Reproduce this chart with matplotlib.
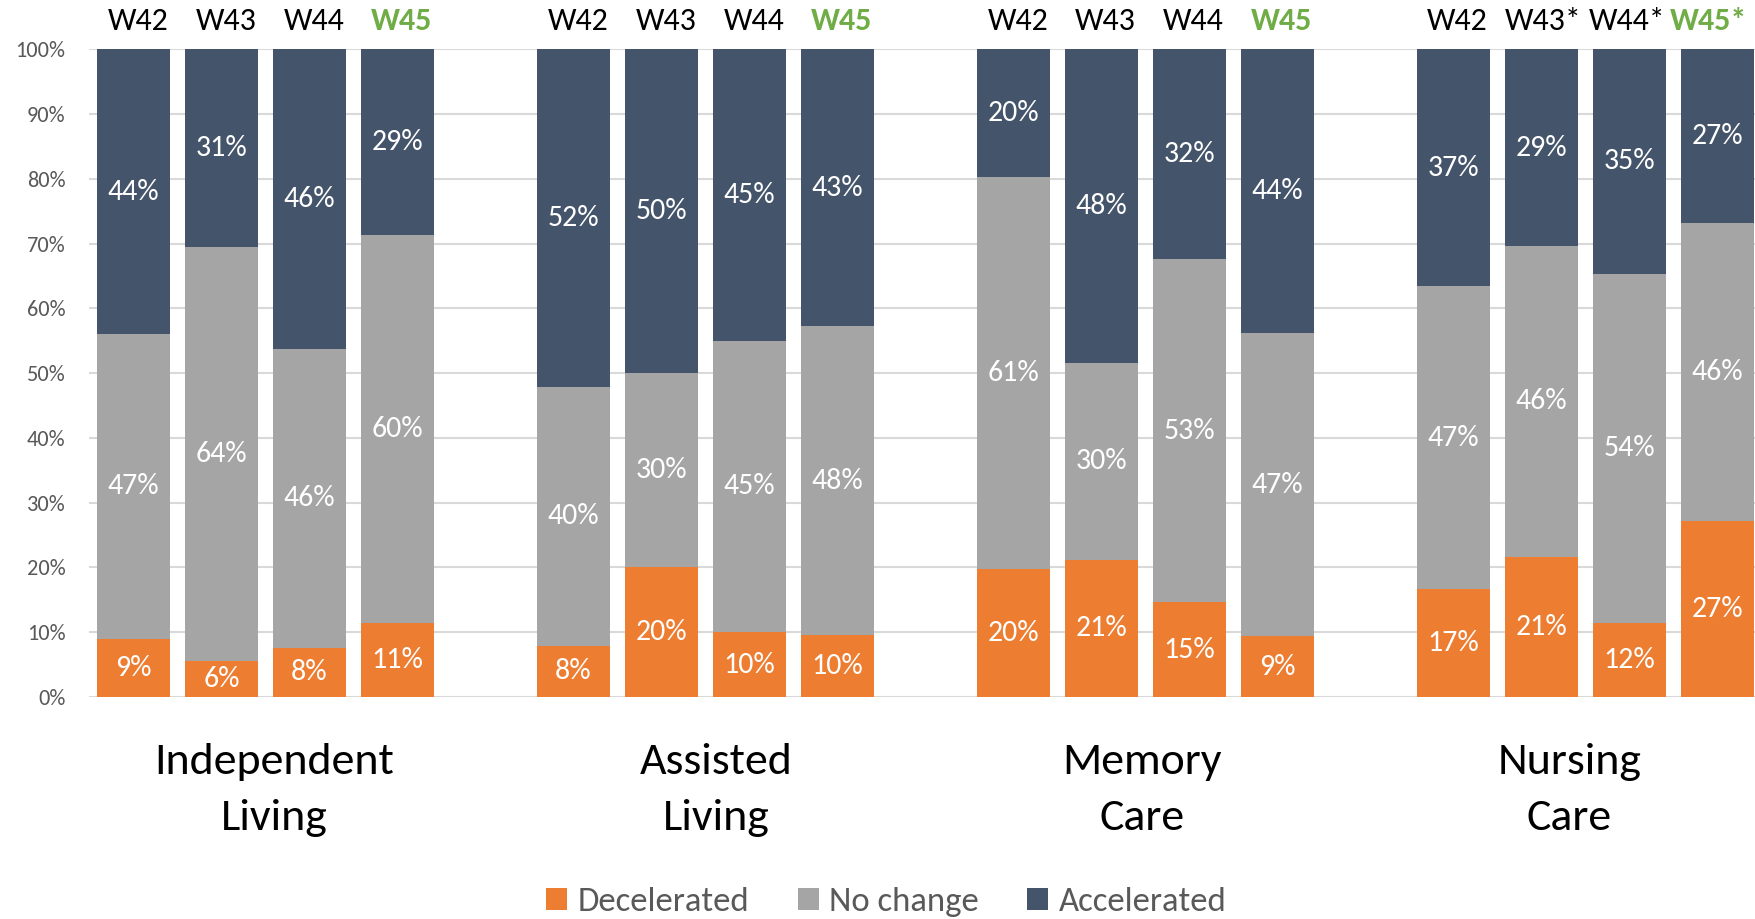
import matplotlib
matplotlib.use("Agg")
import matplotlib.pyplot as plt
import numpy as np
from matplotlib.patches import Patch

plt.rcParams['font.family'] = ['Carlito', 'Lato', 'DejaVu Sans']

# ---- data ----
groups = ["Independent\nLiving", "Assisted\nLiving", "Memory\nCare", "Nursing\nCare"]
week_labels = [
    ["W42", "W43", "W44", "W45"],
    ["W42", "W43", "W44", "W45"],
    ["W42", "W43", "W44", "W45"],
    ["W42", "W43*", "W44*", "W45*"],
]
series = ["Decelerated", "No change", "Accelerated"]
decelerated = [
    [9.0, 5.6, 7.6, 11.4],
    [7.9, 20.0, 10.0, 9.6],
    [19.7, 21.2, 14.6, 9.4],
    [16.7, 20.8, 11.6, 27.1],
]
no_change = [
    [47.0, 63.8, 46.2, 60.0],
    [40.0, 30.0, 45.0, 47.6],
    [60.6, 30.4, 53.0, 46.8],
    [46.7, 46.0, 54.4, 46.0],
]
accelerated = [
    [44.0, 30.6, 46.2, 28.6],
    [52.1, 50.0, 45.0, 42.8],
    [19.7, 48.4, 32.4, 43.8],
    [36.6, 29.2, 35.0, 26.9],
]
colors = ["#ED7D31", "#A5A5A5", "#44546A"]
highlight = "#70AD47"

fig = plt.figure(figsize=(17.55, 9.19), dpi=100)
ax = fig.add_axes([0.0507, 0.2416, 0.9493, 0.7048])

bar_w = 0.83
slot = 5
for g in range(len(groups)):
    vals = np.array([decelerated[g], no_change[g], accelerated[g]], dtype=float)
    tot = vals.sum(axis=0)
    pct = vals / tot * 100
    xs = np.arange(4) + g * slot
    bottom = np.zeros(4)
    for s in range(3):
        ax.bar(xs, pct[s], bottom=bottom, width=bar_w, color=colors[s],
               edgecolor="none", zorder=3)
        for i in range(4):
            ax.text(xs[i], bottom[i] + pct[s][i] / 2, f"{vals[s][i]:.0f}%",
                    ha="center", va="center", color="white", fontsize=21.5, zorder=4)
        bottom += pct[s]
    for i in range(4):
        last = (i == 3)
        dx = 0.05
        if g == len(groups) - 1:
            dx = [0.05, 0.02, -0.02, -0.1][i]
        ax.text(xs[i] + dx, 1.043, week_labels[g][i], transform=ax.get_xaxis_transform(),
                ha="center", va="center", fontsize=23,
                color=highlight if last else "black",
                fontweight="bold" if last else "normal")

group_offsets = [0.1, 0.12, -0.04, -0.18]
for g, name in enumerate(groups):
    cx = g * slot + 1.5 + group_offsets[g]
    ax.text(cx, -0.1436, name, transform=ax.get_xaxis_transform(), ha="center",
            va="center", fontsize=33, color="black", linespacing=1.55)

ax.set_xlim(-0.506, 18.43)
ax.set_ylim(0, 100)
ax.set_yticks(np.arange(0, 101, 10))
ax.set_yticklabels([f"{v}%" for v in range(0, 101, 10)], fontsize=16, color="#595959")
ax.tick_params(axis="y", length=0, pad=17)
ax.set_xticks([])
ax.grid(axis="y", color="#D9D9D9", linewidth=1.5, zorder=0)
for sp in ax.spines.values():
    sp.set_visible(False)

handles = [Patch(facecolor=c, edgecolor="none") for c in colors]
leg = fig.legend(handles, series, loc="center", bbox_to_anchor=(0.505, 0.018),
                 ncol=3, frameon=False, fontsize=25, handlelength=0.6, handleheight=0.6,
                 handletextpad=0.3, columnspacing=1.4)
for t in leg.get_texts():
    t.set_color("#595959")

fig.savefig("out.png", dpi=100)
